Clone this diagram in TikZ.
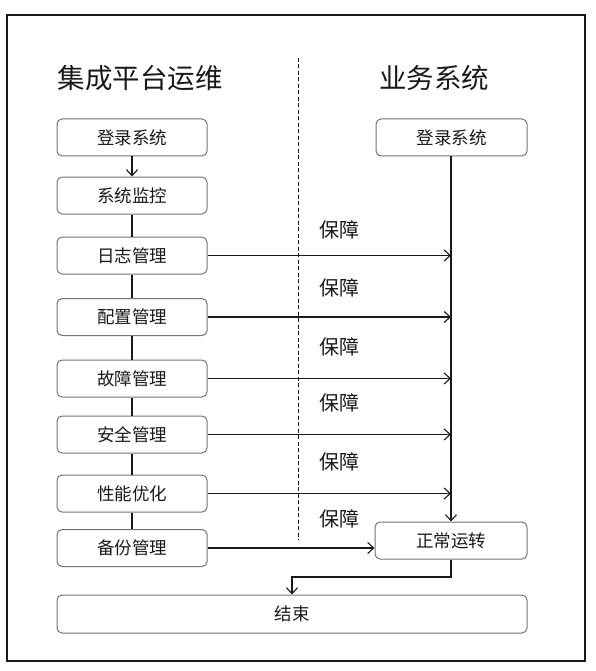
\documentclass[tikz,border=0pt]{standalone}
\usepackage{fontspec}
\setmainfont{Noto Sans CJK SC}
\usetikzlibrary{arrows.meta}
\tikzset{
  stepbox/.style={draw=black!55, line width=1pt, rounded corners=5pt, minimum width=150pt, minimum height=37pt, inner sep=0pt, font=\fontsize{17.5}{17.5}\selectfont, text=black!90},
  titletext/.style={font=\fontsize{27.5}{27.5}\selectfont, text=black!90, inner sep=0pt},
  guard/.style={font=\fontsize{20}{20}\selectfont, text=black!90, inner sep=0pt},
  link/.style={line width=1.1pt, black!90},
  arr/.style={link, -{Straight Barb[length=6pt,width=11pt,line width=1.1pt]}}
}
\begin{document}
\begin{tikzpicture}[x=1pt,y=-1pt]
\useasboundingbox (0,0) rectangle (596,671);
\draw[line width=1.4pt, black!90] (7,15) rectangle (585,661);
\node[titletext] (t1) at (140,78) {集成平台运维};
\node[titletext] (t2) at (434,78) {业务系统};
\coordinate (d1) at (298,58);
\coordinate (d2) at (298,540);
\draw[line width=1pt, black!90, dash pattern=on 4pt off 2.5pt] (d1) -- (d2);
\node[stepbox] (l1) at (132,137.5) {登录系统};
\node[stepbox] (l2) at (132,195.5) {系统监控};
\node[stepbox] (l3) at (132,255.5) {日志管理};
\node[stepbox] (l4) at (132,317) {配置管理};
\node[stepbox] (l5) at (132,378.5) {故障管理};
\node[stepbox] (l6) at (132,434.5) {安全管理};
\node[stepbox] (l7) at (132,493.5) {性能优化};
\node[stepbox] (l8) at (132,548) {备份管理};
\node[stepbox, minimum width=151pt] (r1) at (451.5,137.5) {登录系统};
\node[stepbox, minimum width=152pt] (ok) at (451,540.5) {正常运转};
\node[stepbox, minimum width=470pt, minimum height=38pt] (fin) at (292,614) {结束};
\node[guard] (g1) at (339,230) {保障};
\node[guard] (g2) at (339,288) {保障};
\node[guard] (g3) at (339,347) {保障};
\node[guard] (g4) at (339,403) {保障};
\node[guard] (g5) at (339,462) {保障};
\node[guard] (g6) at (339,519) {保障};
\draw[arr] (l1) -- (l2);
\draw[link] (l2) -- (l3);
\draw[link] (l3) -- (l4);
\draw[link] (l4) -- (l5);
\draw[link] (l5) -- (l6);
\draw[link] (l6) -- (l7);
\draw[link] (l7) -- (l8);
\draw[arr] (r1.south -| ok.north) -- (ok.north);
\draw[arr] (l3.east) -- (l3.east -| ok.north);
\draw[arr] (l4.east) -- (l4.east -| ok.north);
\draw[arr] (l5.east) -- (l5.east -| ok.north);
\draw[arr] (l6.east) -- (l6.east -| ok.north);
\draw[arr] (l7.east) -- (l7.east -| ok.north);
\draw[arr] (l8.east) -- (l8.east -| ok.west);
\coordinate (bend) at (451,577);
\draw[arr] (ok.south) -- (bend) -| (fin.north);
\end{tikzpicture}
\end{document}
